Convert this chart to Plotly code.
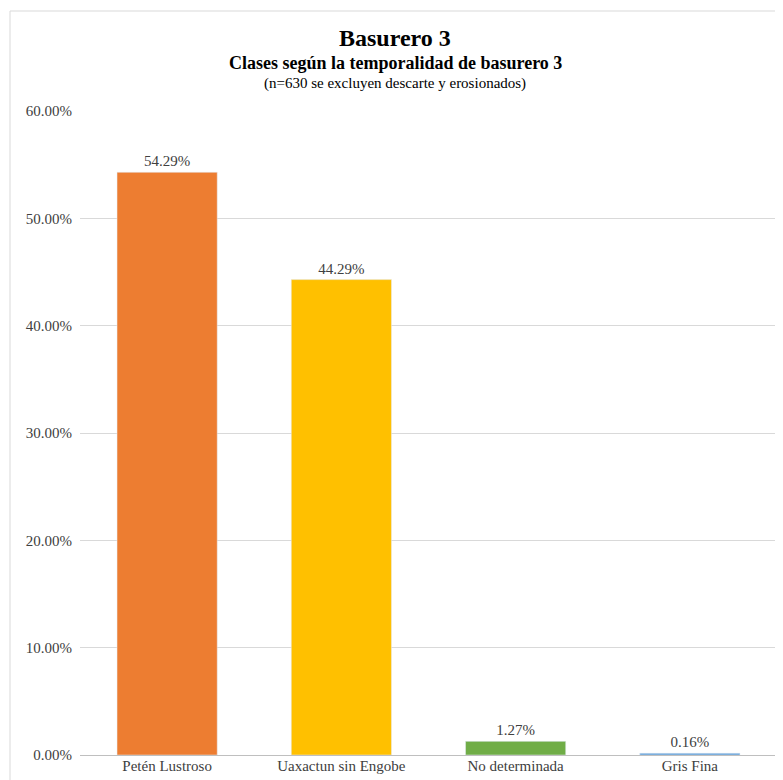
import plotly.graph_objects as go

categories = ["Petén Lustroso", "Uaxactun sin Engobe", "No determinada", "Gris Fina"]
values = [54.29, 44.29, 1.27, 0.16]
colors = ["#ED7D31", "#FFC000", "#70AD47", "#5B9BD5"]
tick_vals = [0, 10, 20, 30, 40, 50, 60]
tick_text = ["0.00%", "10.00%", "20.00%", "30.00%", "40.00%", "50.00%", "60.00%"]

FONT = "Liberation Serif"
PW, PH = 697, 644  # plot area size
L, T = 80, 111     # plot area offset in page coords (page body has 8px margin)

fig = go.Figure(go.Bar(
    x=categories, y=values, marker_color=colors,
    text=[f"{v:.2f}%" for v in values], textposition="outside",
    textfont=dict(family=FONT, size=15, color="#404040"),
    cliponaxis=False,
))

fig.update_layout(
    width=775, height=772,
    margin=dict(l=L - 8, r=6, t=T - 8, b=25),
    paper_bgcolor="white", plot_bgcolor="white",
    bargap=0.425,
    showlegend=False,
    font=dict(family=FONT, color="#404040"),
)
fig.update_yaxes(range=[0, 60], tickvals=tick_vals, ticktext=tick_text,
                 showgrid=True, gridcolor="#d9d9d9", gridwidth=1,
                 zeroline=True, zerolinecolor="#bfbfbf", zerolinewidth=1,
                 tickfont=dict(family=FONT, size=15, color="#404040"),
                 ticks="", showline=False, ticklabelstandoff=7)
fig.update_xaxes(tickfont=dict(family=FONT, size=15, color="#404040"), showline=False,
                 ticks="")


def px(xp):
    return (xp - L) / PW


def py(yp):
    return (T + PH - yp) / PH


cx = px(395)
fig.add_annotation(text="<b>Basurero 3</b>", xref="paper", yref="paper",
                   x=cx, y=py(38), yanchor="middle", showarrow=False,
                   font=dict(family=FONT, size=24, color="black"))
fig.add_annotation(text="<b>Clases según la temporalidad de basurero 3</b>", xref="paper", yref="paper",
                   x=cx, y=py(63), yanchor="middle", showarrow=False,
                   font=dict(family=FONT, size=18, color="black"))
fig.add_annotation(text="(n=630 se excluyen descarte y erosionados)", xref="paper", yref="paper",
                   x=cx, y=py(83), yanchor="middle", showarrow=False,
                   font=dict(family=FONT, size=15, color="black"))

fig.add_shape(type="rect", xref="paper", yref="paper",
              x0=px(10), x1=px(781),
              y0=-0.1, y1=py(11),
              line=dict(color="#d9d9d9", width=1), fillcolor="rgba(0,0,0,0)", layer="below")

fig.write_html("out.html")
